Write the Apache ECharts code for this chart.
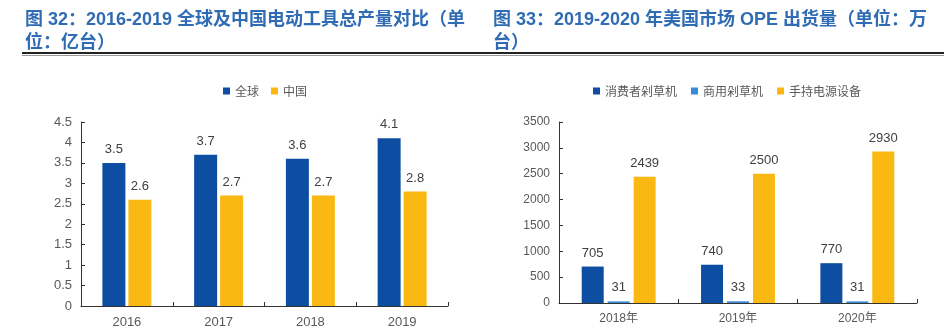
<!DOCTYPE html>
<html>
<head>
<meta charset="utf-8">
<script src="https://cdn.jsdelivr.net/npm/echarts@6/dist/echarts.min.js"></script>
<style>
  html, body { margin: 0; padding: 0; background: #fff; }
  #chart { width: 945px; height: 333px; }
</style>
</head>
<body>
<div id="chart"></div>
<script>
// Figure 32: global vs China power tool output (100M units)
const years32 = ['2016', '2017', '2018', '2019'];
const global32 = [3.5, 3.7, 3.6, 4.1];
const china32 = [2.6, 2.7, 2.7, 2.8];
const yTicks32 = { min: 0, max: 4.5, interval: 0.5 };

// Figure 33: US OPE shipments (10k units)
const years33 = ['2018年', '2019年', '2020年'];
const consumerMower = [705, 740, 770];
const commercialMower = [31, 33, 31];
const handheld = [2439, 2500, 2930];
const yTicks33 = { min: 0, max: 3500, interval: 500 };

const title32a = '图 32：2016-2019 全球及中国电动工具总产量对比（单';
const title32b = '位：亿台）';
const title33a = '图 33：2019-2020 年美国市场 OPE 出货量（单位：万';
const title33b = '台）';

const DARK_BLUE = '#0d4ea3';
const LIGHT_BLUE = '#3a89d5';
const GOLD = '#f9b912';
const AXIS = '#333333';
const TICK_TXT = '#595959';
const LABEL_TXT = '#404040';
const FONT = '"Liberation Sans", Arial, "Noto Sans CJK SC", sans-serif';
const TITLE_COLOR = '#2f6cb4';

const chart = echarts.init(document.getElementById('chart'), null, { renderer: 'canvas' });

function titleText(x, y, text) {
  return {
    type: 'text', left: x, top: y,
    style: { text: text, fill: TITLE_COLOR, font: 'bold 18px ' + FONT }
  };
}

function catAxis(gridIndex, data, fontSize) {
  return {
    type: 'category', gridIndex: gridIndex, data: data,
    axisLine: { lineStyle: { color: AXIS, width: 1 } },
    axisTick: { show: true, inside: true, length: 4, alignWithLabel: false, lineStyle: { color: AXIS } },
    axisLabel: { color: TICK_TXT, fontSize: fontSize, fontFamily: FONT, margin: 10 },
    splitLine: { show: false }
  };
}

function valAxis(gridIndex, ticks, fontSize) {
  return {
    type: 'value', gridIndex: gridIndex,
    min: ticks.min, max: ticks.max, interval: ticks.interval,
    axisLine: { show: true, lineStyle: { color: AXIS, width: 1 } },
    axisTick: { show: true, inside: true, length: 4, lineStyle: { color: AXIS } },
    axisLabel: {
      color: TICK_TXT, fontSize: fontSize, fontFamily: FONT, margin: 9,
      formatter: function (v) { return String(v); }
    },
    splitLine: { show: false }
  };
}

function barSeries(name, data, color, axisIdx, width, gap) {
  return {
    name: name, type: 'bar', data: data,
    xAxisIndex: axisIdx, yAxisIndex: axisIdx,
    barWidth: width, barGap: gap,
    itemStyle: { color: color },
    label: {
      show: true, position: 'top', distance: 7,
      color: LABEL_TXT, fontSize: 13, fontFamily: FONT
    },
    emphasis: { disabled: true }
  };
}

const legendText = { color: TICK_TXT, fontSize: 12, fontFamily: '"Noto Sans CJK SC", sans-serif' };

chart.setOption({
  animation: false,
  backgroundColor: '#ffffff',
  graphic: [
    titleText(25, 11, title32a),
    titleText(25, 34, title32b),
    titleText(493, 11, title33a),
    titleText(493, 34, title33b),
    { type: 'rect', shape: { x: 22, y: 52, width: 922, height: 2 }, style: { fill: '#222222' } },
    { type: 'rect', shape: { x: 22, y: 55, width: 922, height: 1 }, style: { fill: '#9a9a9a' } }
  ],
  legend: [
    {
      data: ['全球', '中国'], left: 218, top: 80,
      icon: 'rect', itemWidth: 7, itemHeight: 7, itemGap: 12,
      textStyle: legendText, selectedMode: false
    },
    {
      data: ['消费者剁草机', '商用剁草机', '手持电源设备'], left: 588, top: 80,
      icon: 'rect', itemWidth: 7, itemHeight: 7, itemGap: 14,
      textStyle: legendText, selectedMode: false
    }
  ],
  grid: [
    { left: 81, right: 497, top: 122, bottom: 27 },
    { left: 559, right: 28, top: 122, bottom: 30 }
  ],
  xAxis: [catAxis(0, years32, 13), catAxis(1, years33, 12)],
  yAxis: [valAxis(0, yTicks32, 13), valAxis(1, yTicks33, 12)],
  series: [
    barSeries('全球', global32, DARK_BLUE, 0, 23, '13%'),
    barSeries('中国', china32, GOLD, 0, 23, '13%'),
    barSeries('消费者剁草机', consumerMower, DARK_BLUE, 1, 22, '18%'),
    barSeries('商用剁草机', commercialMower, LIGHT_BLUE, 1, 22, '18%'),
    barSeries('手持电源设备', handheld, GOLD, 1, 22, '18%')
  ]
});
</script>
</body>
</html>
